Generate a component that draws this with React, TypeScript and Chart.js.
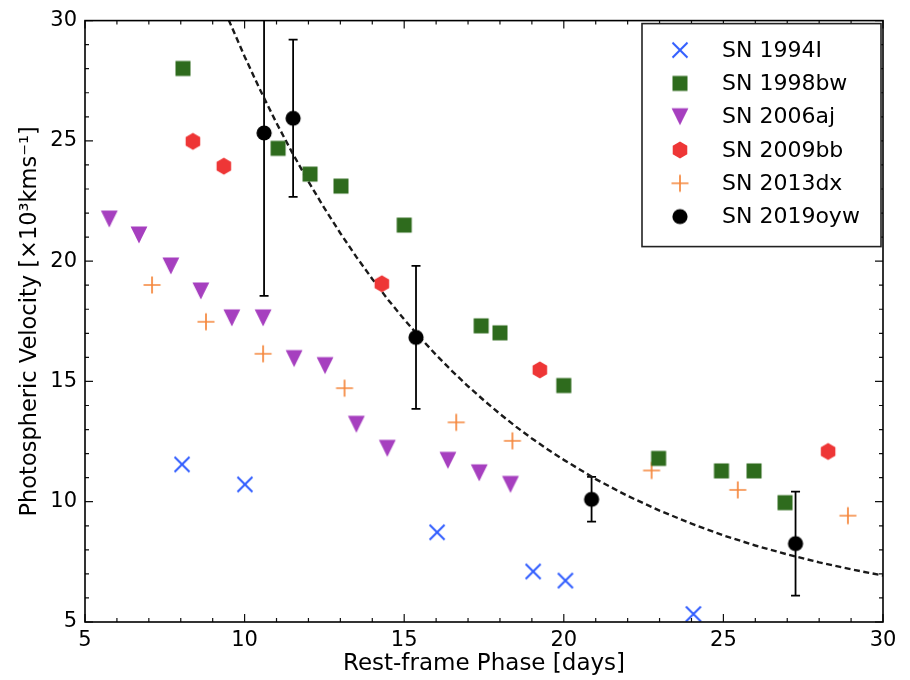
import React, { useEffect, useRef } from 'react';
import { Chart, registerables } from 'chart.js';
Chart.register(...registerables);

// ---- data ----
const sn1994I_x = [8.04, 10.01, 16.03, 19.04, 20.05, 24.06];
const sn1994I_y = [11.55, 10.72, 8.73, 7.1, 6.72, 5.33];

const sn1998bw_x = [8.07, 11.05, 12.05, 13.02, 15.0, 17.41, 18.0, 20.0, 22.97, 24.94, 25.96, 26.93];
const sn1998bw_y = [28.01, 24.69, 23.62, 23.12, 21.5, 17.31, 17.02, 14.83, 11.8, 11.28, 11.28, 9.96];

const sn2006aj_x = [5.76, 6.69, 7.69, 8.63, 9.6, 10.58, 11.55, 12.52, 13.5, 14.47, 16.37, 17.35, 18.33];
const sn2006aj_y = [21.75, 21.09, 19.8, 18.76, 17.64, 17.64, 15.95, 15.66, 13.22, 12.22, 11.72, 11.2, 10.72];

const sn2009bb_x = [8.38, 9.35, 14.3, 19.25, 28.28];
const sn2009bb_y = [24.98, 23.95, 19.06, 15.48, 12.09];

const sn2013dx_x = [7.1, 8.79, 10.58, 13.13, 16.63, 18.39, 22.75, 25.45, 28.9];
const sn2013dx_y = [19.01, 17.48, 16.15, 14.72, 13.3, 12.53, 11.3, 10.49, 9.42];

const sn2019oyw_x = [10.61, 11.52, 15.37, 20.87, 27.26];
const sn2019oyw_y = [25.33, 25.94, 16.83, 10.1, 8.26];
const sn2019oyw_err = [6.77, 3.27, 2.97, 0.93, 2.16];

const fit_x = [9.5, 10, 10.5, 11, 11.5, 12, 12.5, 13, 13.5, 14, 14.5, 15, 15.5, 16, 16.5, 17, 17.5, 18, 18.5, 19, 19.5, 20, 21, 22, 23, 24, 25, 26, 27, 28, 29, 30];
const fit_y = [30.03, 28.51, 27.08, 25.74, 24.49, 23.31, 22.2, 21.16, 20.18, 19.26, 18.39, 17.58, 16.82, 16.1, 15.43, 14.8, 14.21, 13.65, 13.12, 12.63, 12.17, 11.74, 10.94, 10.24, 9.63, 9.09, 8.6, 8.18, 7.81, 7.48, 7.19, 6.93];

const seriesLabels = ['SN 1994I', 'SN 1998bw', 'SN 2006aj', 'SN 2009bb', 'SN 2013dx', 'SN 2019oyw'];
const xTickValues = [5, 10, 15, 20, 25, 30];
const yTickValues = [5, 10, 15, 20, 25, 30];

const FONT = '"DejaVu Sans", sans-serif';

function mk(size: number, draw: (c: CanvasRenderingContext2D, m: number) => void) {
  const cv = document.createElement('canvas');
  cv.width = size;
  cv.height = size;
  const c = cv.getContext('2d')!;
  draw(c, size / 2);
  return cv;
}

function makeMarkers() {
  const xMark = mk(20, (c, m) => {
    c.strokeStyle = '#2f5cff';
    c.lineWidth = 2;
    c.beginPath();
    c.moveTo(m - 7.5, m - 7.5); c.lineTo(m + 7.5, m + 7.5);
    c.moveTo(m + 7.5, m - 7.5); c.lineTo(m - 7.5, m + 7.5);
    c.stroke();
  });
  const square = mk(20, (c, m) => {
    c.fillStyle = '#2e6b1d';
    c.fillRect(m - 7.5, m - 7.5, 15, 15);
  });
  const tri = mk(20, (c, m) => {
    c.fillStyle = '#a63fbf';
    c.beginPath();
    c.moveTo(m - 8.4, m - 8.4);
    c.lineTo(m + 8.4, m - 8.4);
    c.lineTo(m, m + 8.4);
    c.closePath();
    c.fill();
  });
  const hex = mk(20, (c, m) => {
    c.fillStyle = '#ee3636';
    c.beginPath();
    for (let k = 0; k < 6; k++) {
      const a = -Math.PI / 2 + (k * Math.PI) / 3;
      const px = m + 8.4 * Math.cos(a);
      const py = m + 8.4 * Math.sin(a);
      if (k === 0) c.moveTo(px, py); else c.lineTo(px, py);
    }
    c.closePath();
    c.fill();
  });
  const plus = mk(20, (c, m) => {
    c.strokeStyle = '#f5873c';
    c.lineWidth = 1.7;
    c.beginPath();
    c.moveTo(m - 8.5, m); c.lineTo(m + 8.5, m);
    c.moveTo(m, m - 8.5); c.lineTo(m, m + 8.5);
    c.stroke();
  });
  const circ = mk(20, (c, m) => {
    c.fillStyle = '#000000';
    c.beginPath();
    c.arc(m, m, 7.6, 0, Math.PI * 2);
    c.fill();
  });
  return [xMark, square, tri, hex, plus, circ];
}

function pts(xs: number[], ys: number[]) {
  return xs.map((x, i) => ({ x, y: ys[i] }));
}

export default function App() {
  const ref = useRef<HTMLCanvasElement | null>(null);

  useEffect(() => {
    if (!ref.current) return;
    const markers = makeMarkers();
    const seriesX = [sn1994I_x, sn1998bw_x, sn2006aj_x, sn2009bb_x, sn2013dx_x, sn2019oyw_x];
    const seriesY = [sn1994I_y, sn1998bw_y, sn2006aj_y, sn2009bb_y, sn2013dx_y, sn2019oyw_y];

    const scatterSets: any[] = seriesLabels.map((label, i) => ({
      type: 'scatter',
      label,
      data: pts(seriesX[i], seriesY[i]),
      pointStyle: markers[i],
      pointRadius: 8,
      pointHoverRadius: 8,
      showLine: false,
    }));

    const fitSet: any = {
      type: 'line',
      label: 'fit',
      data: pts(fit_x, fit_y),
      borderColor: '#1a1a1a',
      borderWidth: 2.4,
      borderDash: [6, 3.5],
      pointRadius: 0,
      tension: 0,
      fill: false,
    };

    const errorBars = {
      id: 'errorBars',
      beforeDatasetsDraw(chart: any) {
        const { ctx, chartArea: a, scales } = chart;
        const x = scales.x, y = scales.y;
        ctx.save();
        ctx.beginPath();
        ctx.rect(a.left, a.top, a.right - a.left, a.bottom - a.top);
        ctx.clip();
        ctx.strokeStyle = '#000';
        ctx.lineWidth = 1.8;
        sn2019oyw_x.forEach((xv, i) => {
          const px = x.getPixelForValue(xv);
          const pTop = y.getPixelForValue(sn2019oyw_y[i] + sn2019oyw_err[i]);
          const pBot = y.getPixelForValue(sn2019oyw_y[i] - sn2019oyw_err[i]);
          ctx.beginPath();
          ctx.moveTo(px, pTop); ctx.lineTo(px, pBot);
          ctx.moveTo(px - 4.5, pTop); ctx.lineTo(px + 4.5, pTop);
          ctx.moveTo(px - 4.5, pBot); ctx.lineTo(px + 4.5, pBot);
          ctx.stroke();
        });
        ctx.restore();
      },
    };

    const frameTicks = {
      id: 'frameTicks',
      afterDatasetsDraw(chart: any) {
        const { ctx, chartArea: a, scales } = chart;
        const x = scales.x, y = scales.y;
        ctx.save();
        ctx.strokeStyle = '#111';
        ctx.lineWidth = 1.2;
        ctx.beginPath();
        for (let v = x.min; v <= x.max + 1e-9; v += 1) {
          const L = xTickValues.includes(v) ? 8 : 4;
          const px = x.getPixelForValue(v);
          ctx.moveTo(px, a.bottom); ctx.lineTo(px, a.bottom - L);
          ctx.moveTo(px, a.top); ctx.lineTo(px, a.top + L);
        }
        for (let v = y.min; v <= y.max + 1e-9; v += 1) {
          const L = yTickValues.includes(v) ? 8 : 4;
          const py = y.getPixelForValue(v);
          ctx.moveTo(a.left, py); ctx.lineTo(a.left + L, py);
          ctx.moveTo(a.right, py); ctx.lineTo(a.right - L, py);
        }
        ctx.stroke();
        ctx.lineWidth = 1.6;
        ctx.strokeStyle = '#000';
        ctx.strokeRect(a.left, a.top, a.right - a.left, a.bottom - a.top);
        ctx.restore();
      },
    };

    const legendBox = {
      id: 'legendBox',
      afterDraw(chart: any) {
        const { ctx, chartArea: a } = chart;
        const bx = a.right - 241, by = a.top + 3, bw = 239, bh = 223;
        ctx.save();
        ctx.fillStyle = '#ffffff';
        ctx.fillRect(bx, by, bw, bh);
        ctx.strokeStyle = '#222';
        ctx.lineWidth = 1.6;
        ctx.strokeRect(bx, by, bw, bh);
        ctx.font = `22px ${FONT}`;
        ctx.fillStyle = '#000';
        ctx.textBaseline = 'middle';
        ctx.textAlign = 'left';
        seriesLabels.forEach((lab, i) => {
          const cy = by + 26.5 + i * 33.3;
          const m = markers[i];
          ctx.drawImage(m, bx + 38 - m.width / 2, cy - m.height / 2);
          ctx.fillText(lab, bx + 80, cy + 1);
        });
        ctx.restore();
      },
    };

    const chart = new Chart(ref.current, {
      type: 'scatter',
      data: { datasets: [...scatterSets, fitSet] },
      options: {
        responsive: false,
        animation: false,
        layout: { padding: { top: 19, right: 27, bottom: 0, left: 0 } },
        plugins: { legend: { display: false }, tooltip: { enabled: false } },
        scales: {
          x: {
            type: 'linear',
            min: 5,
            max: 30,
            afterFit: (s: any) => { s.height = 58; },
            grid: { display: false, drawTicks: false },
            border: { display: false },
            ticks: {
              stepSize: 5,
              padding: 6,
              color: '#000',
              font: { family: FONT, size: 21 },
            },
            title: {
              display: true,
              text: 'Rest-frame Phase [days]',
              color: '#000',
              font: { family: FONT, size: 23 },
              padding: { top: 0, bottom: 2 },
            },
          },
          y: {
            type: 'linear',
            min: 5,
            max: 30,
            afterFit: (s: any) => { s.width = 85; },
            grid: { display: false, drawTicks: false },
            border: { display: false },
            ticks: {
              stepSize: 5,
              padding: 8,
              color: '#000',
              font: { family: FONT, size: 21 },
            },
            title: {
              display: true,
              text: 'Photospheric Velocity [×10³kms⁻¹]',
              color: '#000',
              font: { family: FONT, size: 22.5 },
              padding: { top: 17, bottom: 0 },
            },
          },
        },
      },
      plugins: [errorBars, frameTicks, legendBox],
    } as any);

    return () => chart.destroy();
  }, []);

  return (
    <div style={{ position: 'absolute', left: 0, top: 0, width: 910, height: 680, background: '#fff' }}>
      <canvas ref={ref} width={910} height={680} style={{ display: 'block' }} />
    </div>
  );
}
